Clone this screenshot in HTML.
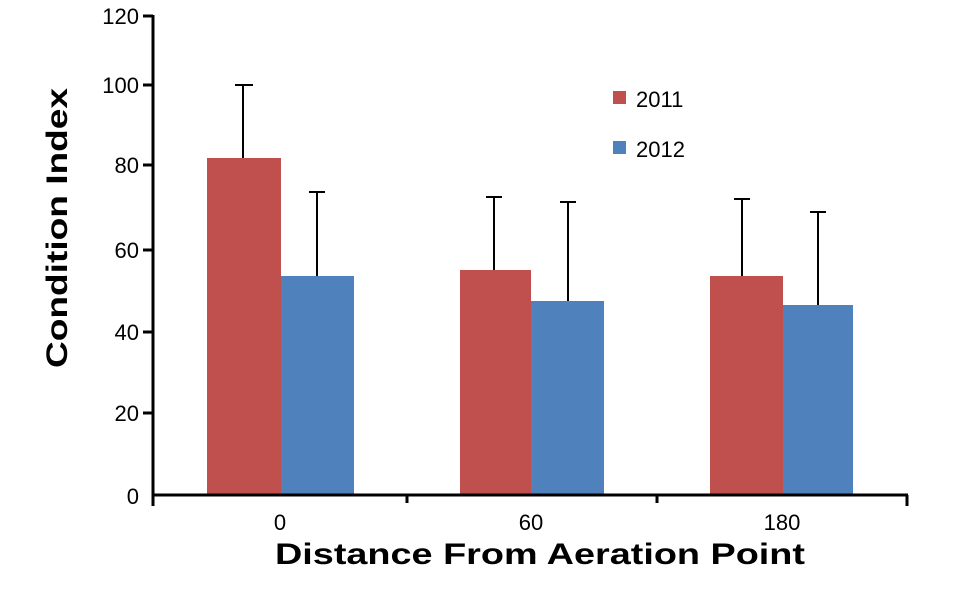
<!DOCTYPE html>
<html><head><style>body{margin:0;background:#fff}svg{display:block}</style></head><body>
<svg width="960" height="596" xmlns="http://www.w3.org/2000/svg" font-family="Liberation Sans, sans-serif">
<g fill="#c0504d">
<rect x="207" y="158" width="74" height="337"/>
<rect x="460" y="270" width="71" height="225"/>
<rect x="710" y="276" width="73" height="219"/>
</g>
<g fill="#4f81bd">
<rect x="281" y="276" width="73" height="219"/>
<rect x="531" y="301" width="73" height="194"/>
<rect x="783" y="305" width="70" height="190"/>
</g>
<g stroke="#000" stroke-width="2">
<line x1="243" y1="158" x2="243" y2="85"/><line x1="235" y1="85" x2="253" y2="85"/>
<line x1="317" y1="276" x2="317" y2="192"/><line x1="309" y1="192" x2="325" y2="192"/>
<line x1="494" y1="270" x2="494" y2="197"/><line x1="486" y1="197" x2="502" y2="197"/>
<line x1="568" y1="301" x2="568" y2="202"/><line x1="560" y1="202" x2="576" y2="202"/>
<line x1="742" y1="276" x2="742" y2="199"/><line x1="734" y1="199" x2="750" y2="199"/>
<line x1="818" y1="305" x2="818" y2="212"/><line x1="810" y1="212" x2="826" y2="212"/>
</g>
<g stroke="#000" stroke-width="3">
<line x1="153" y1="15" x2="153" y2="496"/>
<line x1="152" y1="495" x2="908" y2="495"/>
<line x1="153" y1="495" x2="153" y2="506"/>
<line x1="407" y1="495" x2="407" y2="503"/>
<line x1="657" y1="495" x2="657" y2="503"/>
<line x1="907" y1="495" x2="907" y2="506"/>
<line x1="143" y1="16" x2="153" y2="16"/>
<line x1="143" y1="85" x2="153" y2="85"/>
<line x1="143" y1="165" x2="153" y2="165"/>
<line x1="143" y1="250" x2="153" y2="250"/>
<line x1="143" y1="332" x2="153" y2="332"/>
<line x1="143" y1="413" x2="153" y2="413"/>
</g>
<g font-size="22" text-anchor="end" fill="#000">
<text x="139" y="24">120</text><text x="139" y="93">100</text><text x="139" y="173">80</text>
<text x="139" y="258">60</text><text x="139" y="340">40</text><text x="139" y="421">20</text><text x="139" y="504">0</text>
</g>
<g font-size="22" text-anchor="middle">
<text x="280" y="530">0</text><text x="531" y="530">60</text><text x="782" y="530">180</text>
</g>
<text x="275" y="564" font-size="30" font-weight="bold" textLength="530" lengthAdjust="spacingAndGlyphs">Distance From Aeration Point</text>
<text transform="translate(67,368) rotate(-90)" font-size="30" font-weight="bold" textLength="280" lengthAdjust="spacingAndGlyphs">Condition Index</text>
<rect x="613" y="91" width="13" height="13" fill="#c0504d"/>
<text x="636" y="107" font-size="22">2011</text>
<rect x="613" y="141" width="13" height="13" fill="#4f81bd"/>
<text x="636" y="157" font-size="22">2012</text>
</svg>
</body></html>
